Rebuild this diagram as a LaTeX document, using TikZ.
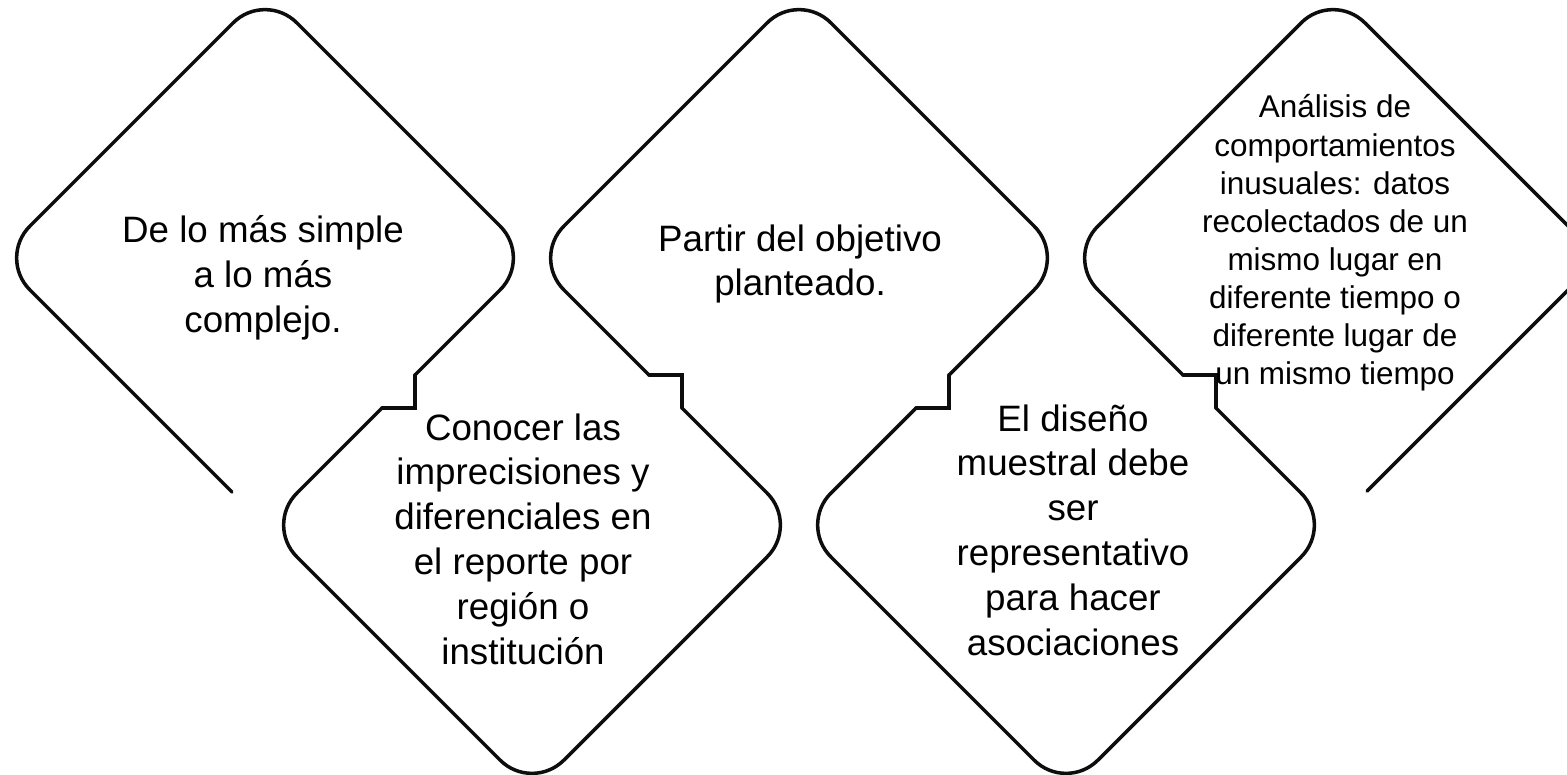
\documentclass[tikz,border=0pt]{standalone}
\usepackage{fontspec}
\setmainfont{Liberation Sans}
\usepackage{tikz}
\definecolor{Edge}{HTML}{0D0D0D}
\definecolor{Ink}{HTML}{000000}

\begin{document}
\begin{tikzpicture}[x=0.02cm,y=-0.02cm,
  outline/.style={Edge,line width=2pt,line cap=round,line join=miter},
  lbl/.style={Ink,font=\fontsize{20.9}{25.5}\selectfont,align=center,inner sep=0pt},
  smalllbl/.style={lbl,font=\fontsize{17.9}{21.7}\selectfont}]
  \clip (0,0) rectangle (1567,774);
  \def\h{267}
  \def\n{16.5}
  \foreach \cx/\ax/\ay/\bx/\by in {265/232/492/415/375, 799/649/375/949/375, 1333/1183/375/1367/491} {
    \draw[outline,rounded corners=0.9cm] (\ax,\ay) -- ({\cx-\h},258) -- (\cx,-9) -- ({\cx+\h},258) -- (\bx,\by);
  }
  \foreach \cx in {532,1066} {
    \draw[outline,rounded corners=0.9cm] ({\cx-150},408) -- ({\cx-\h},525) -- (\cx,792) -- ({\cx+\h},525) -- ({\cx+150},408);
  }
  \foreach \mx/\s in {398.5/1,665.5/-1,932.5/1,1199.5/-1} {
    \draw[outline] ({\mx+\n},{391.5-\s*\n}) -- ({\mx+\n},{391.5+\s*\n}) -- ({\mx-\n},{391.5+\s*\n});
  }
  \node[lbl] (simple) at (263,278) {De lo más simple\\a lo más\\complejo.};
  \node[lbl] (conocer) at (523,539) {Conocer las\\imprecisiones y\\diferenciales en\\el reporte por\\región o\\institución};
  \node[lbl] (partir) at (800,264) {Partir del objetivo\\planteado.};
  \node[lbl] (diseno) at (1073,530) {El diseño\\muestral debe\\ser\\representativo\\para hacer\\asociaciones};
  \node[smalllbl] (analisis) at (1335,243) {Análisis de\\comportamientos\\inusuales: datos\\recolectados de un\\mismo lugar en\\diferente tiempo o\\diferente lugar de\\un mismo tiempo};
\end{tikzpicture}
\end{document}
